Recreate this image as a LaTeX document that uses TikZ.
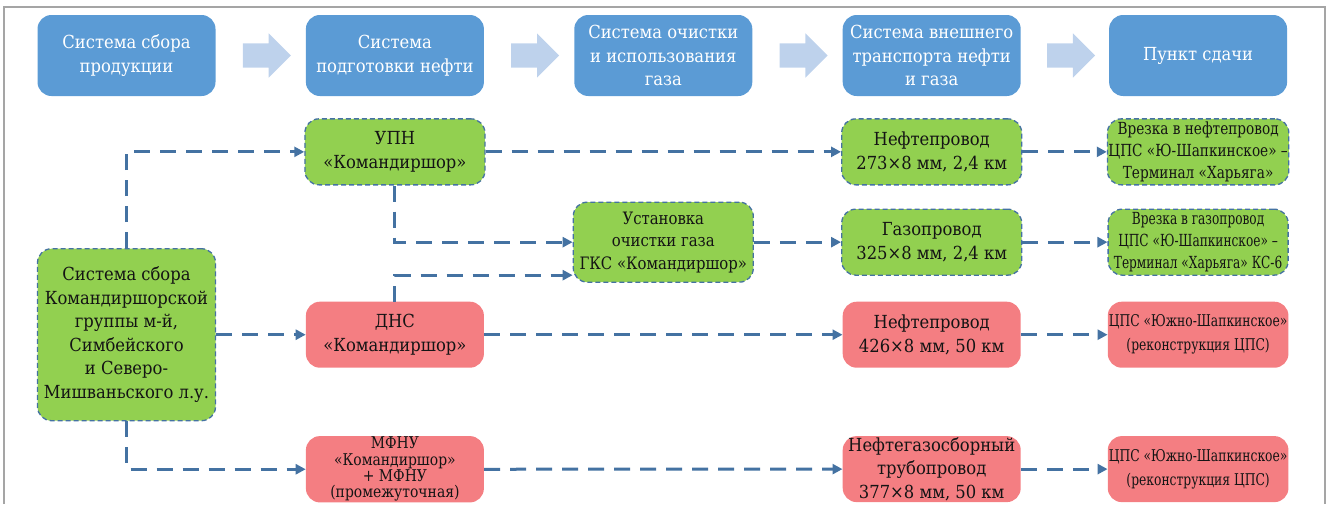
\documentclass[tikz,border=0pt]{standalone}
\usepackage{fontspec}
\setmainfont{DejaVu Serif}[Scale=0.9,FakeStretch=0.91]
\usetikzlibrary{
arrows.meta,
shapes.arrows,
calc,
positioning
}
\definecolor{headblue}{RGB}{91,155,213}
\definecolor{paleblue}{RGB}{190,210,236}
\definecolor{okgreen}{RGB}{146,208,80}
\definecolor{newred}{RGB}{244,126,130}
\definecolor{linkblue}{RGB}{68,114,162}
\definecolor{framegray}{RGB}{165,165,165}
\definecolor{ink}{RGB}{20,20,20}

\begin{document}
\begin{tikzpicture}[
      x=1pt,y=1pt,
      heading/.style={
        fill=headblue,
        text=white,
        rounded corners=14pt,
        minimum width=178pt,
        minimum height=81pt,
        inner sep=1pt,
        align=center,
        font=\fontsize{20}{23.5}\selectfont
      },
      flowarrow/.style={
        single arrow,
        fill=paleblue,
        minimum height=48pt,
        inner xsep=0pt,
        inner ysep=12pt,
        single arrow head extend=10pt
      },
      keep/.style={
        fill=okgreen,
        draw=linkblue,
        dash pattern=on 5pt off 3pt,
        line width=1.3pt,
        rounded corners=14pt,
        minimum width=180pt,
        minimum height=66pt,
        inner sep=1pt,
        align=center,
        text=ink,
        font=\fontsize{20}{23.5}\selectfont
      },
      build/.style={
        fill=newred,
        rounded corners=14pt,
        minimum width=178pt,
        minimum height=66pt,
        inner sep=1pt,
        align=center,
        text=ink,
        font=\fontsize{20}{23.5}\selectfont
      },
      link/.style={
        draw=linkblue,
        line width=3pt,
        dash pattern=on 16pt off 10pt,
        -{Triangle[length=10pt,width=10pt]}
      }
    ]
    \useasboundingbox (0,0) rectangle (1330,-504);
    \draw[framegray,line width=2.5pt] (4,-504) |- (1325,-7) -- (1325,-504);

    % stages
    \node[heading] (t1) at (126.5,-55.5) {Система сбора\\продукции};
    \node[heading,anchor=west,xshift=90pt] (t2) at (t1.east) {Система\\подготовки нефти};
    \node[heading,anchor=west,xshift=90pt] (t3) at (t2.east) {Система очистки\\и использования\\газа};
    \node[heading,anchor=west,xshift=90pt] (t4) at (t3.east) {Система внешнего\\транспорта нефти\\и газа};
    \node[heading,anchor=west,xshift=88pt] (t5) at (t4.east) {Пункт сдачи};

    \node[flowarrow] (a1) at ($ (t1.east) !.5! (t2.west) $) {};
    \node[flowarrow] (a2) at ($ (t2.east) !.5! (t3.west) $) {};
    \node[flowarrow] (a3) at ($ (t3.east) !.5! (t4.west) $) {};
    \node[flowarrow] (a4) at ($ (t4.east) !.5! (t5.west) $) {};

    % existing objects
    \node[keep,anchor=north,yshift=-22pt] (upn) at (t2.south) {УПН\\«Командиршор»};
    \node[keep,anchor=north,yshift=-22pt] (oil1) at (t4.south) {Нефтепровод\\273×8 мм, 2,4 км};
    \node[keep,anchor=north,yshift=-22pt,
      font=\fontsize{18.5}{22}\selectfont\addfontfeature{FakeStretch=0.82}] (tap1) at (t5.south)
      {Врезка в нефтепровод\\ЦПС «Ю-Шапкинское» –\\Терминал «Харьяга»};
    \node[keep,anchor=north,yshift=-23pt] (gas) at (oil1.south) {Газопровод\\325×8 мм, 2,4 км};
    \node[keep,anchor=north,yshift=-23pt,
      font=\fontsize{18.5}{22}\selectfont\addfontfeature{FakeStretch=0.73}] (tap2) at (tap1.south)
      {Врезка в газопровод\\ЦПС «Ю-Шапкинское» –\\Терминал «Харьяга» КС-6};
    \node[keep,minimum height=80pt,
      font=\fontsize{19}{22.5}\selectfont\addfontfeature{FakeStretch=0.87}] (gtu) at (t3 |- gas)
      {Установка\\очистки газа\\ГКС «Командиршор»};

    % new objects
    \node[build,anchor=north,yshift=-116pt] (dns) at (upn.south) {ДНС\\«Командиршор»};
    \node[build,anchor=north,yshift=-116pt] (oil2) at (oil1.south) {Нефтепровод\\426×8 мм, 50 км};
    \node[build,anchor=north,yshift=-116pt,
      font=\fontsize{18}{24}\selectfont\addfontfeature{FakeStretch=0.76}] (cps1) at (tap1.south)
      {ЦПС «Южно-Шапкинское»\\(реконструкция ЦПС)};
    \node[build,anchor=north,yshift=-68pt,
      font=\fontsize{18}{16.3}\selectfont\addfontfeature{FakeStretch=0.86}] (mfnu) at (dns.south)
      {МФНУ\\«Командиршор»\\+ МФНУ\\(промежуточная)};
    \node[build,anchor=north,yshift=-68pt] (pipe) at (oil2.south) {Нефтегазосборный\\трубопровод\\377×8 мм, 50 км};
    \node[build,anchor=north,yshift=-68pt,
      font=\fontsize{18}{24}\selectfont\addfontfeature{FakeStretch=0.76}] (cps2) at (cps1.south)
      {ЦПС «Южно-Шапкинское»\\(реконструкция ЦПС)};

    \node[keep,minimum width=178pt,minimum height=172pt] (src) at (t1 |- dns)
      {Система сбора\\Командиршорской\\группы м-й,\\Симбейского\\и Северо-\\Мишваньского л.у.};

    % flows
    \draw[link] (src.north) |- (upn.west);
    \draw[link] (src.east) -- (dns.west);
    \draw[link] (src.south) |- (mfnu.west);
    \draw[link] (upn.east) -- (oil1.west);
    \draw[link] (upn.south) |- (gtu.west);
    \draw[link] (dns.north) |- ([yshift=-33pt]gtu.west);
    \draw[link] (gtu.east) -- (gas.west);
    \draw[link] (dns.east) -- (oil2.west);
    \draw[link] (mfnu.east) -- (pipe.west);
    \draw[link] (oil1.east) -- (tap1.west);
    \draw[link] (gas.east) -- (tap2.west);
    \draw[link] (oil2.east) -- (cps1.west);
    \draw[link] (pipe.east) -- (cps2.west);

  \end{tikzpicture}
\end{document}
